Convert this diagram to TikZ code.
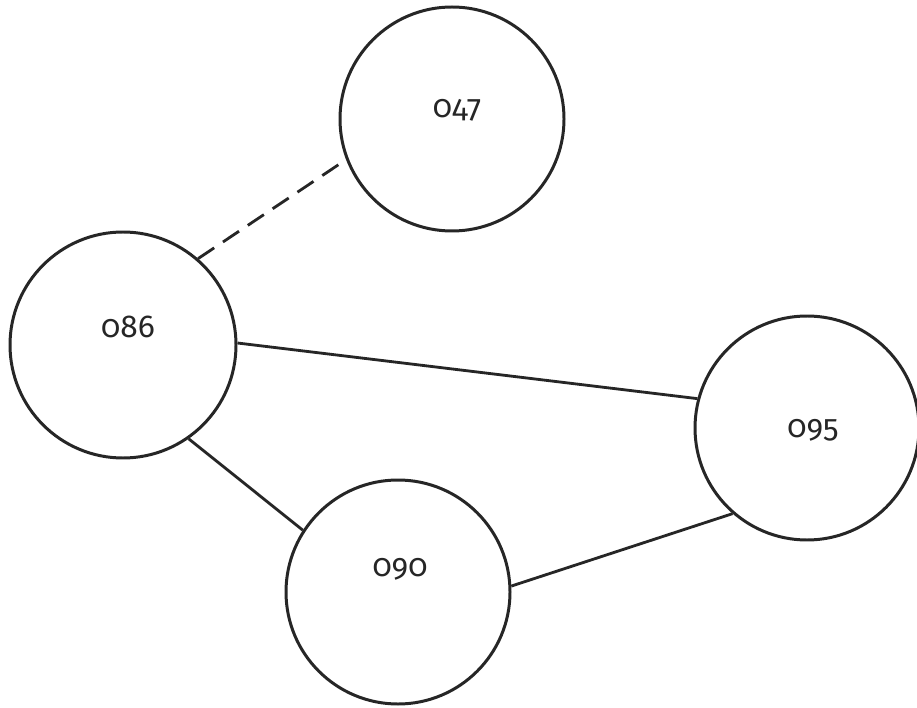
\documentclass[tikz,border=0pt]{standalone}
\usepackage{fontspec}
\setmainfont[Numbers=OldStyle]{Fira Sans}
\usepackage{tikz}
\usetikzlibrary{positioning}
\tikzset{
  stn/.style  = {draw=black!85, circle, line width=1.7pt, inner sep=0pt,
                 minimum size=4.48cm, fill=white},
  num/.style  = {font=\fontsize{18}{21}\selectfont, text=black!85},
  link/.style = {draw=black!85, line width=1.6pt},
  dlink/.style = {link, dash pattern=on 11pt off 6pt},
}

\begin{document}
\begin{tikzpicture}[x=1cm, y=1cm]
  \useasboundingbox[fill=white] (0,0) rectangle (18.34,14.14);

  \node[stn, label={[num, xshift=0.1cm, yshift=0.18cm]center:047}] (s047) at (9.04,11.76) {};
  \node[stn, minimum size=4.52cm, label={[num, xshift=0.1cm, yshift=0.36cm]center:086}] (s086) at (2.46,7.24) {};
  \node[stn, label={[num, xshift=0.12cm, yshift=-0.04cm]center:095}] (s095) at (16.14,5.58) {};
  \node[stn, label={[num, xshift=0.04cm, yshift=0.46cm]center:090}] (s090) at (7.96,2.30) {};

  \draw[dlink] (s086.49) -- (s047.201);
  \draw[link] (s086.1) -- (s095.165);
  \draw[link] (s086.-55) -- (s090.147);
  \draw[link] (s090.3) -- (s095.229);
\end{tikzpicture}
\end{document}
